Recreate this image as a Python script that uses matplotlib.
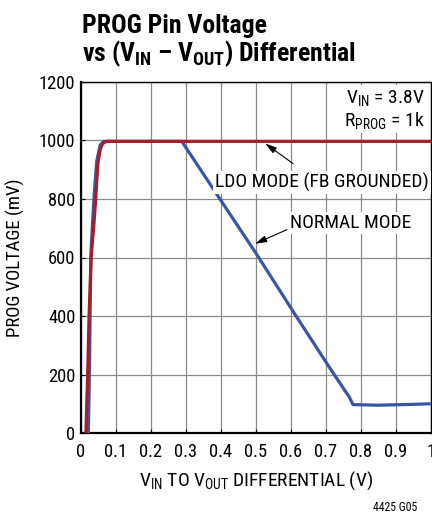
import matplotlib
matplotlib.use("Agg")
import matplotlib.pyplot as plt
from matplotlib import font_manager

names = {f.name for f in font_manager.fontManager.ttflist}
narrow = 'Roboto Condensed' if 'Roboto Condensed' in names else 'Liberation Sans Narrow' if 'Liberation Sans Narrow' in names else 'Liberation Sans'
plt.rcParams['font.family'] = [narrow, 'DejaVu Sans']
plt.rcParams['mathtext.fontset'] = 'custom'
plt.rcParams['mathtext.rm'] = narrow
plt.rcParams['mathtext.it'] = narrow
plt.rcParams['mathtext.bf'] = narrow + ':bold'

# Data
normal_x = [0.021, 0.024, 0.026, 0.028, 0.032, 0.038, 0.045, 0.055, 0.065, 0.10, 0.20, 0.288,
            0.397, 0.504, 0.609, 0.711, 0.767, 0.777, 0.85, 0.95, 1.0]
normal_y = [0, 200, 400, 600, 700, 820, 930, 985, 997, 997, 997, 997,
            800, 607, 410, 222, 122, 97, 95, 98, 100]
ldo_x = [0.014, 0.019, 0.023, 0.029, 0.036, 0.042, 0.048, 0.055, 0.062, 0.073, 0.10, 0.5, 1.0]
ldo_y = [0, 200, 400, 600, 700, 800, 920, 970, 990, 997, 997, 997, 997]
xticks = [0, 0.1, 0.2, 0.3, 0.4, 0.5, 0.6, 0.7, 0.8, 0.9, 1.0]
xticklabels = ['0', '0.1', '0.2', '0.3', '0.4', '0.5', '0.6', '0.7', '0.8', '0.9', '1']
yticks = [0, 200, 400, 600, 800, 1000, 1200]

W, H = 432, 517
fig = plt.figure(figsize=(W / 100, H / 100), dpi=100)
ax = fig.add_axes([81 / W, 1 - 433 / H, 350 / W, (433 - 82) / H])

ax.plot(normal_x, normal_y, color='#3B55A3', lw=2.3, solid_capstyle='butt', zorder=3)
ax.plot(ldo_x, ldo_y, color='#A51E2B', lw=2.3, solid_capstyle='butt', zorder=4)

ax.set_xlim(0, 1.0)
ax.set_ylim(0, 1200)
ax.set_xticks(xticks)
ax.set_xticklabels(xticklabels)
ax.set_yticks(yticks)
ax.grid(True, color='#8a8a8a', lw=0.9)
ax.set_axisbelow(True)
for s in ax.spines.values():
    s.set_color('black')
    s.set_linewidth(1.0)
ax.spines['left'].set_linewidth(1.6)
ax.spines['bottom'].set_linewidth(1.6)
ax.tick_params(axis='both', length=3, width=0.8, direction='in', labelsize=13.3, colors='black')
ax.tick_params(axis='x', pad=7)
ax.tick_params(axis='y', pad=4)

ax.set_ylabel('PROG VOLTAGE (mV)', fontsize=13.5)
ax.yaxis.set_label_coords(-0.16, 0.5)
ax.set_xlabel('V$_{\\mathregular{IN}}$ TO V$_{\\mathregular{OUT}}$ DIFFERENTIAL (V)', fontsize=14, labelpad=6)

fig.text(82 / W, 1 - 33 / H, 'PROG Pin Voltage', fontsize=18.5, fontweight='bold', ha='left', va='baseline')
fig.text(82 / W, 1 - 61 / H, 'vs (V$_{\\mathregular{IN}}$ – V$_{\\mathregular{OUT}}$) Differential',
         fontsize=18.5, fontweight='bold', ha='left', va='baseline')

wb = dict(facecolor='white', edgecolor='none', pad=1.5)
ax.text(0.983, 1147, 'V$_{\\mathregular{IN}}$ = 3.8V', fontsize=14, ha='right', va='center', bbox=wb, zorder=5)
ax.text(0.983, 1068, 'R$_{\\mathregular{PROG}}$ = 1k', fontsize=14, ha='right', va='center', bbox=wb, zorder=5)

ax.text(0.689, 857, 'LDO MODE (FB GROUNDED)', fontsize=14, ha='center', va='center', bbox=wb, zorder=5)
ax.annotate('', xy=(0.526, 990), xytext=(0.606, 921),
            arrowprops=dict(arrowstyle='-|>,head_length=0.7,head_width=0.2', color='black', lw=0.8,
                            shrinkA=0, shrinkB=0), zorder=6)
ax.text(0.771, 717, 'NORMAL MODE', fontsize=14, ha='center', va='center', bbox=wb, zorder=5)
ax.annotate('', xy=(0.497, 647), xytext=(0.588, 695),
            arrowprops=dict(arrowstyle='-|>,head_length=0.7,head_width=0.2', color='black', lw=0.8,
                            shrinkA=0, shrinkB=0), zorder=6)

fig.text(417 / W, 1 - 511 / H, '4425 G05', fontsize=8.5, ha='right', va='baseline')

fig.savefig('out.png', dpi=100)
